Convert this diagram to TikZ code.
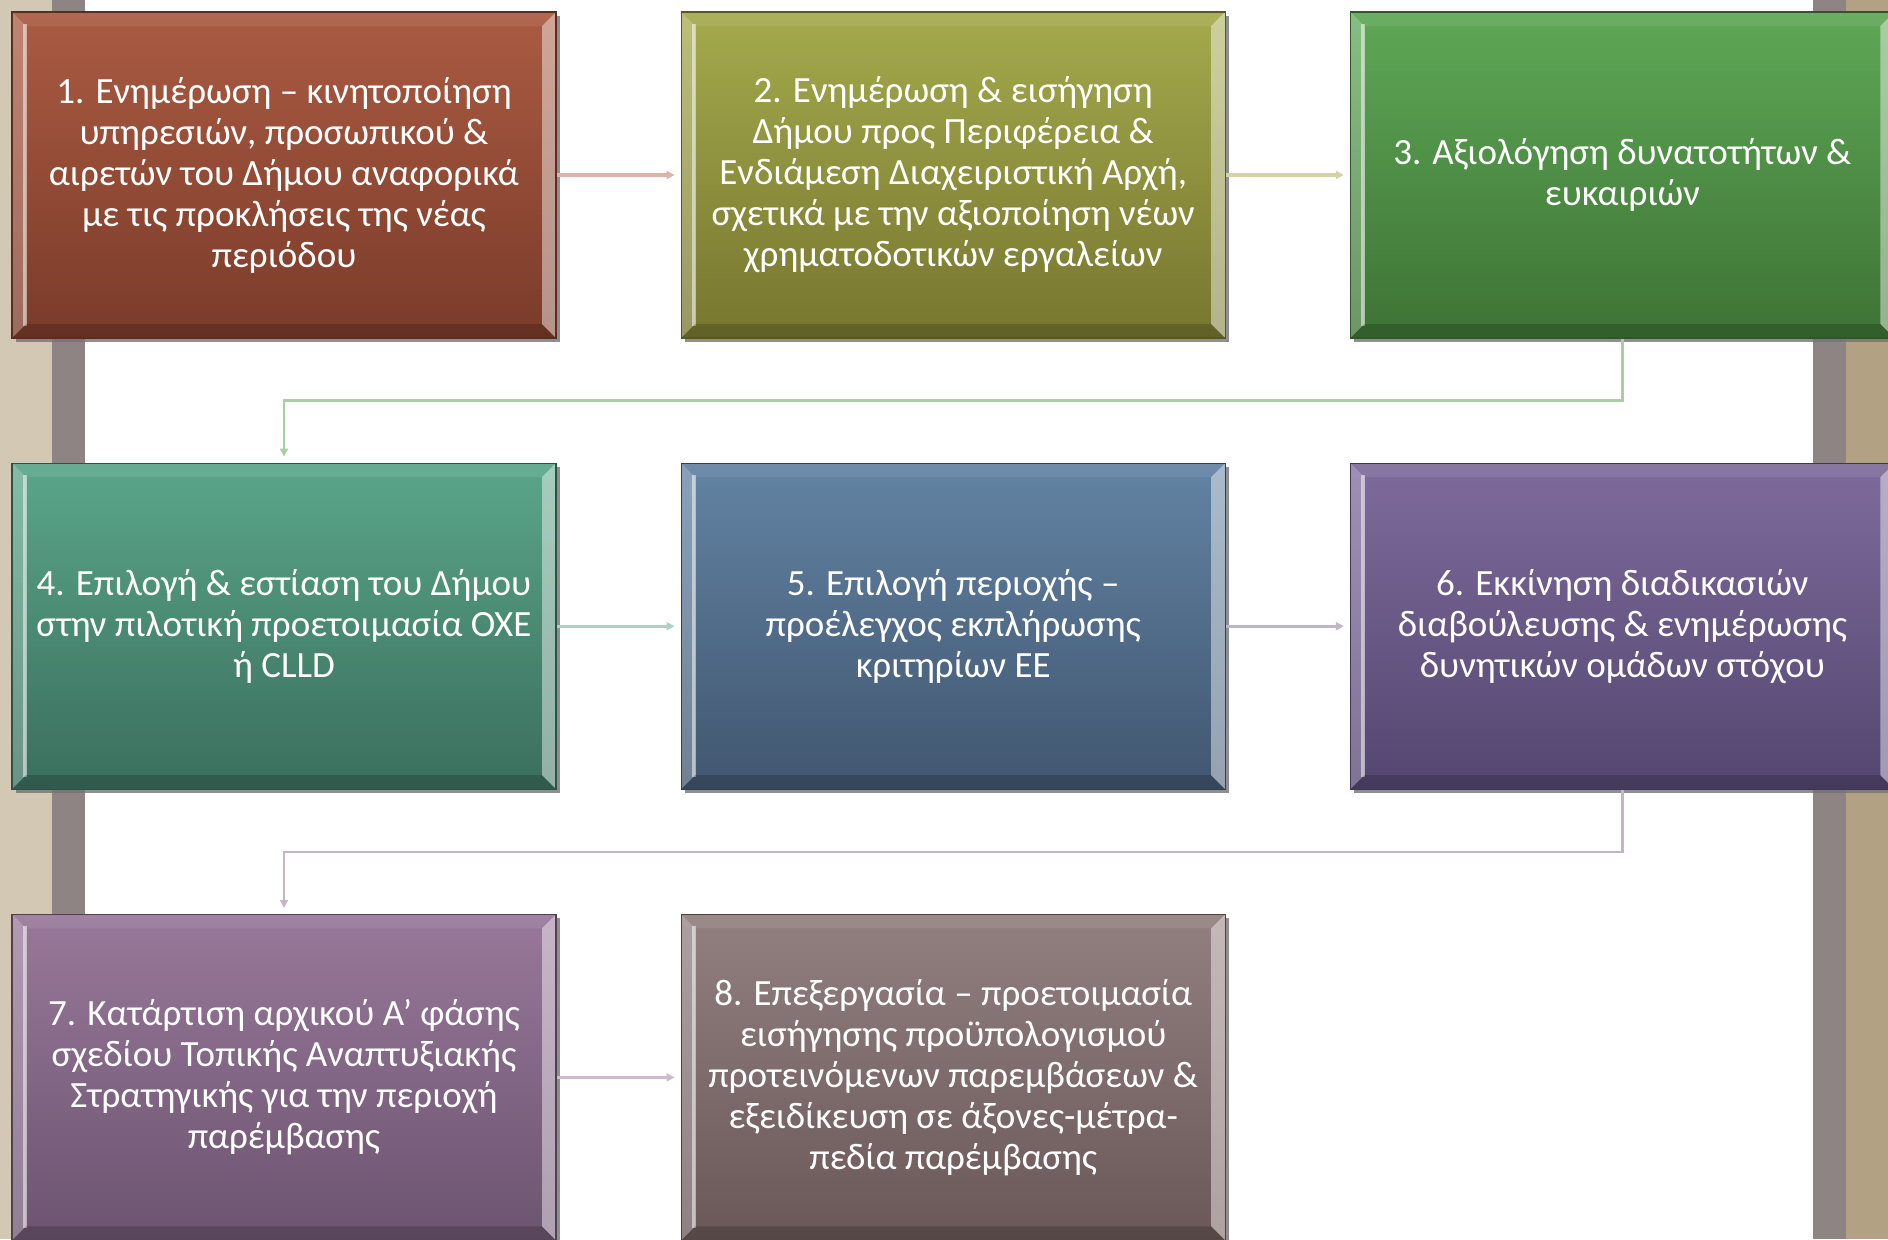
\documentclass[tikz,border=0pt]{standalone}
\usepackage{fontspec}
\setmainfont{Carlito}
\usetikzlibrary{arrows.meta,positioning,shadows}

\definecolor{boxAt}{HTML}{AB5B42}\definecolor{boxAb}{HTML}{7A3B2A}
\definecolor{boxBt}{HTML}{A4AA4C}\definecolor{boxBb}{HTML}{77762F}
\definecolor{boxCt}{HTML}{5EA856}\definecolor{boxCb}{HTML}{3E7335}
\definecolor{boxDt}{HTML}{5AA68A}\definecolor{boxDb}{HTML}{3A6E5D}
\definecolor{boxEt}{HTML}{6283A3}\definecolor{boxEb}{HTML}{415670}
\definecolor{boxFt}{HTML}{7E6B9C}\definecolor{boxFb}{HTML}{544670}
\definecolor{boxGt}{HTML}{98789A}\definecolor{boxGb}{HTML}{6C5470}
\definecolor{boxHt}{HTML}{928080}\definecolor{boxHb}{HTML}{6A5757}
\definecolor{stripbeige}{HTML}{D3C8B3}
\definecolor{stripbeigeR}{HTML}{B2A183}
\definecolor{stripgray}{HTML}{8F8484}

\begin{document}
\begin{tikzpicture}[
    x=0.5pt, y=0.5pt,
    node distance=62pt and 62pt,
    every node/.style={font=\fontsize{18.5pt}{20.5pt}\selectfont},
    stepbox/.style 2 args={minimum width=272pt, minimum height=163pt, inner sep=0pt,
        align=center, text=white, top color=#1, bottom color=#2, draw=#2!75!black, line width=0.6pt,
        drop shadow={shadow xshift=2pt, shadow yshift=-1.8pt, fill=black!55, opacity=0.8},
        path picture={
          \fill[white, opacity=0.25] (path picture bounding box.north west) -- ([shift={(7pt,-7pt)}]path picture bounding box.north west)
              -- ([shift={(7pt,7pt)}]path picture bounding box.south west) -- (path picture bounding box.south west) -- cycle;
          \fill[white, opacity=0.5] ([shift={(5.5pt,-6pt)}]path picture bounding box.north west) rectangle ([shift={(7.5pt,6pt)}]path picture bounding box.south west);
          \fill[white, opacity=0.45] (path picture bounding box.north east) -- ([shift={(-7pt,-7pt)}]path picture bounding box.north east)
              -- ([shift={(-7pt,7pt)}]path picture bounding box.south east) -- (path picture bounding box.south east) -- cycle;
          \fill[black, opacity=0.18] (path picture bounding box.south west) -- ([shift={(7pt,7pt)}]path picture bounding box.south west)
              -- ([shift={(-7pt,7pt)}]path picture bounding box.south east) -- (path picture bounding box.south east) -- cycle;
          \fill[white, opacity=0.08] (path picture bounding box.north west) -- ([shift={(7pt,-7pt)}]path picture bounding box.north west)
              -- ([shift={(-7pt,-7pt)}]path picture bounding box.north east) -- (path picture bounding box.north east) -- cycle;
        }},
    flowline/.style={line width=1.6pt, -{Triangle[length=4pt,width=4pt]}, shorten >=3pt},
    elbowline/.style={line width=1.3pt, -{Triangle[length=4pt,width=4pt]}, shorten >=3pt}
]
\useasboundingbox (0,0) rectangle (1888,-1239);

% side strips of the slide
\fill[stripbeige] (0,0) rectangle (52,-1239);
\fill[stripgray] (52,0) rectangle (85,-1239);
\fill[stripgray] (1813,0) rectangle (1846,-1239);
\fill[stripbeigeR] (1846,0) rectangle (1888,-1239);

% Row 1
\node[stepbox={boxAt}{boxAb}] (b1) at (284,-175) {1. Ενημέρωση – κινητοποίηση\\υπηρεσιών, προσωπικού \&\\αιρετών του Δήμου αναφορικά\\με τις προκλήσεις της νέας\\περιόδου};
\node[stepbox={boxBt}{boxBb}, right=of b1] (b2) {2. Ενημέρωση \& εισήγηση\\Δήμου προς Περιφέρεια \&\\Ενδιάμεση Διαχειριστική Αρχή,\\σχετικά με την αξιοποίηση νέων\\χρηματοδοτικών εργαλείων};
\node[stepbox={boxCt}{boxCb}, right=of b2] (b3) {3. Αξιολόγηση δυνατοτήτων \&\\ευκαιριών};

% Row 2
\node[stepbox={boxDt}{boxDb}, below=of b1] (b4) {4. Επιλογή \& εστίαση του Δήμου\\στην πιλοτική προετοιμασία ΟΧΕ\\ή CLLD};
\node[stepbox={boxEt}{boxEb}, right=of b4] (b5) {5. Επιλογή περιοχής –\\προέλεγχος εκπλήρωσης\\κριτηρίων ΕΕ};
\node[stepbox={boxFt}{boxFb}, right=of b5] (b6) {6. Εκκίνηση διαδικασιών\\διαβούλευσης \& ενημέρωσης\\δυνητικών ομάδων στόχου};

% Row 3
\node[stepbox={boxGt}{boxGb}, below=of b4] (b7) {7. Κατάρτιση αρχικού Α’ φάσης\\σχεδίου Τοπικής Αναπτυξιακής\\Στρατηγικής για την περιοχή\\παρέμβασης};
\node[stepbox={boxHt}{boxHb}, right=of b7] (b8) {8. Επεξεργασία – προετοιμασία\\εισήγησης προϋπολογισμού\\προτεινόμενων παρεμβάσεων \&\\εξειδίκευση σε άξονες-μέτρα-\\πεδία παρέμβασης};

% connectors
\draw[flowline, boxAt!45!white] (b1.east) -- (b2.west);
\draw[flowline, boxBt!50!white] (b2.east) -- (b3.west);
\draw[elbowline, boxCt!55!white] (b3.south) -- ++(0,-31pt) -| (b4.north);
\draw[flowline, boxDt!50!white] (b4.east) -- (b5.west);
\draw[flowline, boxFt!50!white] (b5.east) -- (b6.west);
\draw[elbowline, boxGt!55!white] (b6.south) -- ++(0,-31pt) -| (b7.north);
\draw[flowline, boxGt!50!white] (b7.east) -- (b8.west);
\end{tikzpicture}
\end{document}
